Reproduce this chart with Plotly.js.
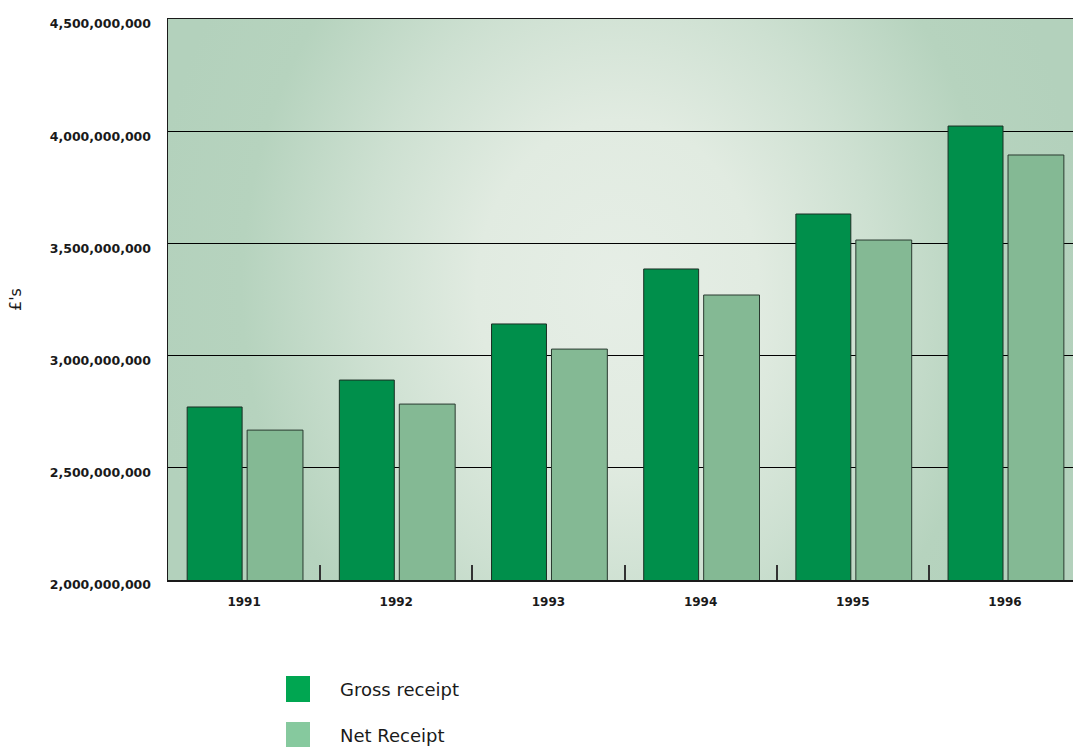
<!DOCTYPE html>
<html>
<head>
<meta charset="utf-8">
<script src="https://cdn.plot.ly/plotly-3.0.1.min.js"></script>
<style>html,body{margin:0;padding:0;background:#fff;overflow:hidden}</style>
</head>
<body>
<div id="chart" style="width:1073px;height:750px"></div>
<script>
// ---- data ----
const years = ['1991', '1992', '1993', '1994', '1995', '1996'];
const grossReceipt = [2771000000, 2891000000, 3141000000, 3386000000, 3631000000, 4023000000];
const netReceipt = [2668000000, 2784000000, 3029000000, 3270000000, 3515000000, 3894000000];
const seriesNames = ['Gross receipt', 'Net Receipt'];
const yAxisTitle = "£'s";

// ---- style ----
const barColors = ['#008f4b', '#84b994'];
const legendColors = ['#00a651', '#86c99e'];
const W = 1073, H = 750;
const M = {l: 168, r: 0, t: 19, b: 170};
const plotW = W - M.l - M.r, plotH = H - M.t - M.b;
const px2x = p => (p - M.l) / plotW;
const py2y = p => (H - M.b - p) / plotH;

const bgSvg = `<svg xmlns="http://www.w3.org/2000/svg" width="905" height="561" viewBox="0 0 905 561" preserveAspectRatio="none">
<defs><radialGradient id="g" gradientUnits="userSpaceOnUse" cx="450" cy="270" r="470" gradientTransform="translate(450 270) scale(1 1.2) translate(-450 -270)">
<stop offset="0" stop-color="#e6eee6"/><stop offset="0.3" stop-color="#e1ebe1"/><stop offset="0.55" stop-color="#cde0d1"/><stop offset="0.8" stop-color="#b6d3be"/><stop offset="1" stop-color="#b3d1bc"/>
</radialGradient></defs><rect width="905" height="561" fill="url(#g)"/></svg>`;
const bgUri = 'data:image/svg+xml;charset=utf-8,' + encodeURIComponent(bgSvg);

const traces = [
  {type: 'bar', name: seriesNames[0], x: years, y: grossReceipt,
   offset: -0.374, width: 0.361,
   marker: {color: barColors[0], line: {color: '#1b2f24', width: 1}}, hoverinfo: 'skip'},
  {type: 'bar', name: seriesNames[1], x: years, y: netReceipt,
   offset: 0.02, width: 0.367,
   marker: {color: barColors[1], line: {color: '#2a3a30', width: 1}}, hoverinfo: 'skip'}
];

const shapes = [], annotations = [];
const legendRows = [{top: 676, bot: 702, mid: 689}, {top: 722, bot: 747, mid: 735}];
seriesNames.forEach((n, i) => {
  const r = legendRows[i];
  shapes.push({type: 'rect', xref: 'paper', yref: 'paper', x0: px2x(286), x1: px2x(310),
    y0: py2y(r.bot), y1: py2y(r.top), fillcolor: legendColors[i], line: {width: 0}});
  annotations.push({xref: 'paper', yref: 'paper', x: px2x(338), y: py2y(r.mid),
    xanchor: 'left', yanchor: 'middle', showarrow: false, text: n,
    font: {family: 'DejaVu Sans', size: 18, color: '#1a1a1a'}});
});

const layout = {
  width: W, height: H, margin: M,
  paper_bgcolor: '#ffffff', plot_bgcolor: 'rgba(0,0,0,0)',
  showlegend: false, barmode: 'overlay',
  images: [{source: bgUri, xref: 'paper', yref: 'paper', x: 0, y: 1, sizex: 1, sizey: 1,
    xanchor: 'left', yanchor: 'top', sizing: 'stretch', layer: 'below'}],
  xaxis: {type: 'category', range: [-0.5, 5.447], fixedrange: true,
    showgrid: false, showline: true, linecolor: '#1a1a1a', linewidth: 1.5, mirror: true,
    ticks: 'inside', tickson: 'boundaries', ticklen: 15, tickwidth: 2, tickcolor: '#333',
    ticklabelstandoff: 10,
    tickfont: {family: 'DejaVu Sans', size: 12, color: '#1a1a1a', weight: 'bold'}},
  yaxis: {range: [2000000000, 4500000000], dtick: 500000000, tick0: 0, tickformat: ',d',
    fixedrange: true, showgrid: true, gridcolor: '#000000', gridwidth: 1,
    showline: true, linecolor: '#1a1a1a', linewidth: 1.5, zeroline: false, ticks: '',
    ticklabelstandoff: 13, ticklabelshift: 5,
    tickfont: {family: 'DejaVu Sans', size: 12.5, color: '#1a1a1a', weight: 'bold'},
    title: {text: yAxisTitle, standoff: 24, font: {family: 'DejaVu Sans', size: 16, color: '#1a1a1a'}}},
  shapes: shapes, annotations: annotations
};

Plotly.newPlot('chart', traces, layout, {displayModeBar: false, staticPlot: true});
</script>
</body>
</html>
